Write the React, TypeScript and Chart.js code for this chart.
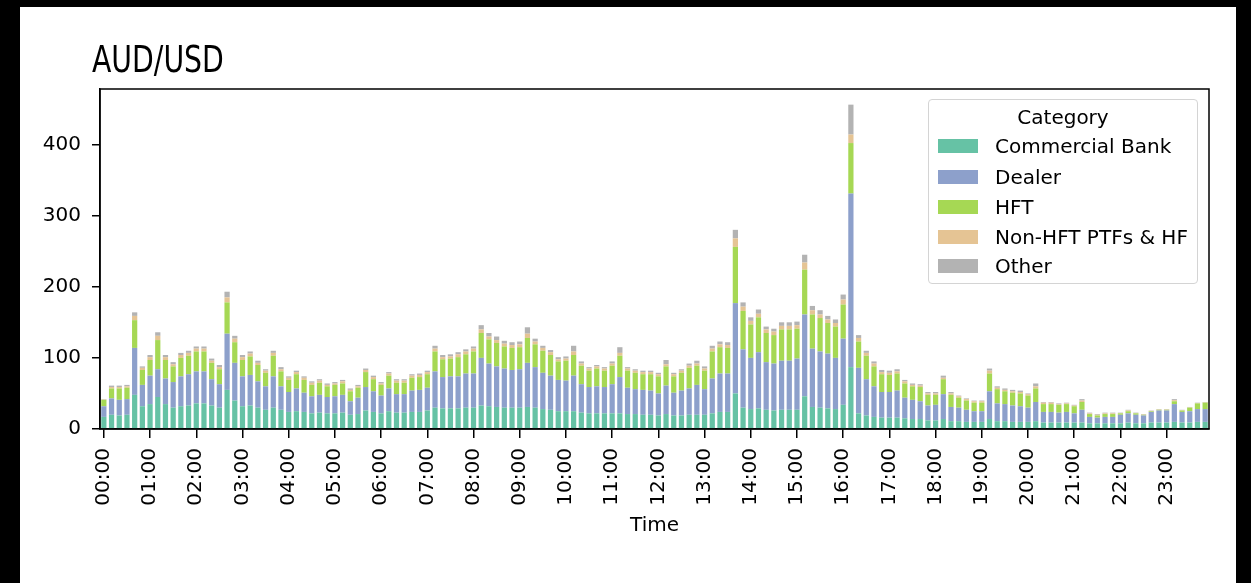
import React, { useEffect, useRef } from "react";
import { Chart, registerables, ChartConfiguration, Plugin } from "chart.js";

Chart.register(...registerables);

// 10-minute slots over the day, one bar each
const slots: string[] = Array.from({ length: 144 }, (_, i) =>
  `${String(Math.floor(i / 6)).padStart(2, "0")}:${String((i % 6) * 10).padStart(2, "0")}`
);

const commercialBank = [
  17, 20, 19, 20, 48, 32, 35, 45, 35, 30, 32, 33, 36, 36, 33, 30, 55, 40, 32, 33, 30, 27, 30, 27,
  24, 25, 24, 22, 23, 22, 22, 23, 20, 21, 26, 24, 22, 25, 23, 23, 24, 24, 26, 30, 29, 29, 29, 30,
  30, 33, 32, 31, 30, 30, 30, 31, 30, 28, 27, 25, 25, 25, 23, 22, 22, 22, 22, 22, 21, 21, 20, 20,
  19, 21, 19, 19, 20, 20, 20, 22, 24, 24, 50, 30, 28, 29, 27, 26, 27, 27, 27, 46, 31, 30, 29, 28,
  34, 87, 22, 19, 17, 16, 16, 16, 15, 14, 14, 12, 12, 14, 11, 11, 10, 10, 10, 14, 11, 11, 10, 10,
  10, 11, 9, 9, 9, 9, 9, 9, 8, 8, 8, 8, 8, 9, 8, 8, 9, 9, 9, 10, 9, 9, 10, 10,
];

const dealer = [
  15, 23, 22, 22, 66, 30, 40, 39, 36, 36, 42, 44, 45, 45, 37, 33, 79, 53, 42, 43, 37, 33, 44, 33,
  28, 32, 27, 24, 25, 23, 24, 25, 19, 23, 33, 29, 25, 32, 26, 26, 30, 31, 32, 51, 44, 45, 45, 48,
  48, 67, 60, 57, 55, 53, 54, 62, 57, 51, 48, 44, 43, 50, 40, 37, 38, 37, 41, 51, 37, 35, 35, 34,
  31, 40, 32, 35, 37, 42, 36, 49, 54, 54, 127, 82, 72, 79, 67, 66, 69, 69, 72, 115, 82, 79, 77, 72,
  93, 244, 64, 51, 43, 36, 36, 38, 29, 27, 25, 21, 22, 35, 20, 19, 17, 15, 15, 39, 25, 24, 23, 22,
  20, 27, 15, 15, 14, 15, 13, 18, 9, 8, 9, 9, 12, 13, 12, 11, 15, 17, 17, 25, 15, 16, 18, 18,
];

const hft = [
  9, 14, 16, 16, 39, 21, 22, 41, 26, 22, 26, 26, 28, 28, 23, 21, 44, 29, 23, 26, 23, 19, 29, 21,
  17, 20, 18, 16, 17, 15, 16, 16, 14, 14, 21, 17, 15, 18, 16, 16, 18, 18, 19, 28, 25, 25, 27, 27,
  31, 35, 34, 33, 31, 31, 31, 35, 32, 31, 29, 26, 28, 29, 26, 23, 25, 23, 26, 30, 24, 23, 22, 23,
  24, 27, 23, 25, 29, 27, 26, 38, 37, 36, 79, 54, 47, 49, 41, 40, 44, 44, 42, 63, 48, 47, 43, 44,
  48, 71, 37, 33, 28, 25, 24, 24, 20, 19, 20, 15, 14, 21, 17, 14, 13, 12, 12, 25, 20, 18, 18, 18,
  17, 19, 11, 11, 11, 11, 10, 11, 4, 3, 4, 4, 2, 3, 2, 1, 1, 1, 1, 4, 2, 5, 8, 9,
];

const nonHftPtfs = [
  0.5, 2, 2, 2, 6, 3, 4, 6, 4, 3, 4, 4, 4, 4, 3, 3, 7, 5, 4, 4, 3, 3, 4, 3,
  3, 3, 3, 3, 3, 2, 2, 3, 2, 2, 3, 3, 2, 3, 3, 3, 3, 3, 3, 4, 3, 3, 4, 4,
  4, 5, 4, 4, 4, 4, 4, 6, 4, 4, 4, 3, 3, 5, 3, 3, 3, 3, 3, 4, 3, 3, 3, 3,
  3, 3, 3, 3, 3, 3, 3, 4, 4, 4, 12, 6, 5, 5, 5, 5, 5, 5, 5, 10, 6, 5, 5, 5,
  7, 12, 5, 4, 4, 3, 3, 3, 3, 2, 2, 2, 2, 2, 2, 2, 2, 2, 2, 4, 2, 2, 2, 2,
  2, 3, 2, 2, 1, 1, 1, 2, 1, 1, 1, 1, 0.5, 1, 0.5, 0.5, 0.5, 0.5, 0.5, 1.5, 0.5, 0.5, 0.5, 0.5,
];

const other = [
  0.5, 2, 2, 2, 5, 2, 3, 5, 3, 3, 3, 3, 3, 3, 3, 3, 8, 4, 3, 3, 3, 2, 3, 3,
  2, 2, 2, 2, 2, 2, 2, 2, 2, 2, 2, 2, 2, 2, 2, 2, 2, 2, 2, 4, 3, 3, 3, 3,
  3, 6, 5, 5, 4, 4, 4, 9, 4, 3, 3, 3, 3, 8, 3, 2, 2, 2, 3, 8, 2, 2, 2, 2,
  2, 6, 2, 2, 3, 4, 3, 4, 4, 4, 12, 6, 5, 6, 4, 4, 5, 5, 5, 11, 6, 6, 5, 5,
  7, 42, 4, 3, 3, 3, 3, 3, 2, 2, 2, 2, 2, 3, 2, 1, 1, 1, 1, 3, 2, 2, 2, 2,
  1, 4, 1, 1, 1, 1, 1, 2, 1, 1, 1, 1, 0.5, 1, 0.5, 0.5, 0.5, 0.5, 0.5, 1.5, 0.5, 0.5, 0.5, 0.5,
];

const categories = ["Commercial Bank", "Dealer", "HFT", "Non-HFT PTFs & HF", "Other"];
const colors = ["#66c2a5", "#8da0cb", "#a6d854", "#e5c494", "#b3b3b3"];
const seriesValues = [commercialBank, dealer, hft, nonHftPtfs, other];

const FONT = "'DejaVu Sans', sans-serif";

// matplotlib-style box round the plot area
const frame: Plugin = {
  id: "frame",
  afterDraw(chart) {
    const { ctx, chartArea } = chart;
    ctx.save();
    ctx.strokeStyle = "#000";
    ctx.lineWidth = 1.5;
    ctx.strokeRect(chartArea.left, chartArea.top, chartArea.right - chartArea.left, chartArea.bottom - chartArea.top);
    ctx.restore();
  },
};

export default function App() {
  const canvasRef = useRef<HTMLCanvasElement | null>(null);

  useEffect(() => {
    const canvas = canvasRef.current;
    if (!canvas) return;

    const config: ChartConfiguration = {
      type: "bar",
      data: {
        labels: slots,
        datasets: categories.map((name, k) => ({
          label: name,
          data: seriesValues[k],
          backgroundColor: colors[k],
          borderWidth: 0,
          barPercentage: 0.68,
          categoryPercentage: 1,
        })),
      },
      options: {
        responsive: false,
        animation: false,
        layout: { padding: { left: 0, top: 89, right: 42, bottom: 0 } },
        plugins: { legend: { display: false }, tooltip: { enabled: false } },
        scales: {
          x: {
            stacked: true,
            afterFit: (scale) => { scale.height = 154; },
            grid: {
              offset: false,
              drawOnChartArea: false,
              drawTicks: true,
              tickLength: 9,
              lineWidth: 1.5,
              tickColor: (ctx) => (ctx.index % 6 === 0 ? "#000" : "rgba(0,0,0,0)"),
            },
            border: { display: true, color: "#000", width: 1.5 },
            ticks: {
              autoSkip: false,
              minRotation: 90,
              maxRotation: 90,
              padding: 10,
              color: "#000",
              font: { family: FONT, size: 20 },
              callback: (_v, i) => (i % 6 === 0 ? slots[i] : ""),
            },
            title: {
              display: true,
              text: "Time",
              color: "#000",
              font: { family: FONT, size: 20 },
              padding: { top: 0, bottom: 45 },
            },
          },
          y: {
            stacked: true,
            min: 0,
            max: 478,
            afterFit: (scale) => { scale.width = 100; },
            grid: { drawOnChartArea: false, drawTicks: true, tickLength: 8, lineWidth: 1.5, tickColor: "#000" },
            border: { display: true, color: "#000", width: 1.5 },
            ticks: {
              stepSize: 100,
              includeBounds: false,
              padding: 11,
              color: "#000",
              font: { family: FONT, size: 20 },
            },
          },
        },
      },
      plugins: [frame],
    };

    const chart = new Chart(canvas, config);
    return () => chart.destroy();
  }, []);

  const legendRows = [145, 175.5, 206, 235.5, 265];

  return (
    <div style={{ position: "fixed", left: 0, top: 0, width: 1251, height: 583, background: "#000", overflow: "hidden" }}>
      <div style={{ position: "absolute", left: 20, top: 7, right: 15, bottom: 0, background: "#fff" }} />
      <canvas ref={canvasRef} width={1251} height={583} style={{ position: "absolute", left: 0, top: 0 }} />
      <div
        style={{
          position: "absolute",
          left: 92,
          top: 41,
          fontFamily: "'DejaVu Sans Condensed', sans-serif",
          fontSize: 37,
          lineHeight: "37px",
          color: "#000",
          whiteSpace: "nowrap",
          transform: "scaleX(0.85)",
          transformOrigin: "left center",
        }}
      >
        AUD/USD
      </div>
      {/* legend drawn inside the plot, top right */}
      <div
        style={{
          position: "absolute",
          left: 928,
          top: 99,
          width: 270,
          height: 185,
          boxSizing: "border-box",
          border: "1.5px solid #d4d4d4",
          borderRadius: 4,
          background: "rgba(255,255,255,0.8)",
          fontFamily: FONT,
          fontSize: 20,
          color: "#000",
        }}
      >
        <div style={{ position: "absolute", left: 0, right: 0, top: 17.7 - 13, height: 24, lineHeight: "24px", textAlign: "center" }}>
          Category
        </div>
        {categories.map((name, k) => (
          <React.Fragment key={name}>
            <div
              style={{
                position: "absolute",
                left: 8.7,
                top: legendRows[k] - 99 - 7,
                width: 40,
                height: 14,
                background: colors[k],
              }}
            />
            <div
              style={{
                position: "absolute",
                left: 66,
                top: legendRows[k] - 99 - 12,
                height: 24,
                lineHeight: "24px",
                whiteSpace: "nowrap",
              }}
            >
              {name}
            </div>
          </React.Fragment>
        ))}
      </div>
    </div>
  );
}
